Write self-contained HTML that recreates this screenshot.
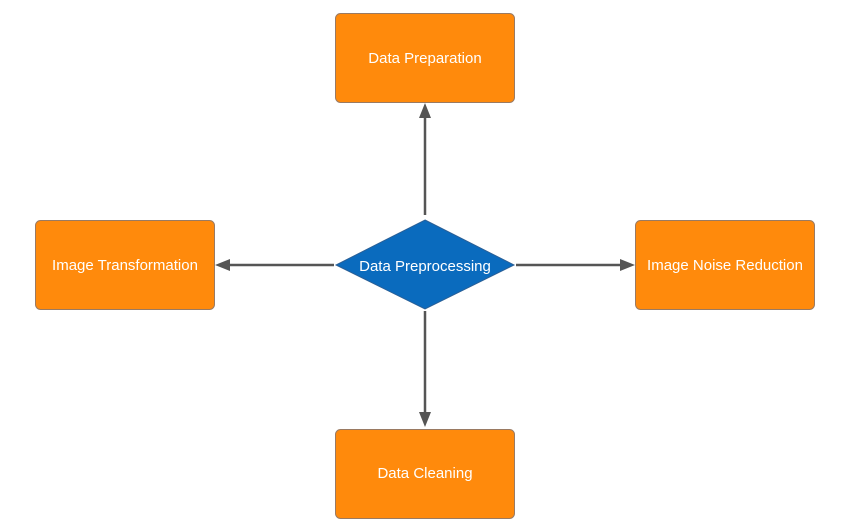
<!DOCTYPE html>
<html><head><meta charset="utf-8"><style>
html,body{margin:0;padding:0;background:#fff;}
svg{display:block;}
text{font-family:"Liberation Sans",Arial,sans-serif;font-size:15px;fill:#fff;}
</style></head><body>
<svg width="853" height="529" viewBox="0 0 853 529" xmlns="http://www.w3.org/2000/svg">
<g fill="#FF8A0C" stroke="#9a7a62" stroke-width="1">
<rect x="335.5" y="13.5" width="179" height="89" rx="5"/>
<rect x="35.5" y="220.5" width="179" height="89" rx="5"/>
<rect x="635.5" y="220.5" width="179" height="89" rx="5"/>
<rect x="335.5" y="429.5" width="179" height="89" rx="5"/>
</g>
<polygon points="425,220 514,265 425,309 336,265" fill="#0A6BBE" stroke="#2a5f96" stroke-width="1"/>
<g stroke="#555" stroke-width="2.5">
<line x1="425" y1="215" x2="425" y2="116"/>
<line x1="425" y1="311" x2="425" y2="413"/>
<line x1="334" y1="265" x2="229" y2="265"/>
<line x1="516" y1="265" x2="621" y2="265"/>
</g>
<g fill="#555">
<polygon points="425,103 419,118 431,118"/>
<polygon points="425,427 419,412 431,412"/>
<polygon points="215,265 230,259 230,271"/>
<polygon points="635,265 620,259 620,271"/>
</g>
<g text-anchor="middle">
<text x="425" y="63">Data Preparation</text>
<text x="125" y="270">Image Transformation</text>
<text x="725" y="270">Image Noise Reduction</text>
<text x="425" y="478">Data Cleaning</text>
<text x="425" y="271">Data Preprocessing</text>
</g>
</svg>
</body></html>
